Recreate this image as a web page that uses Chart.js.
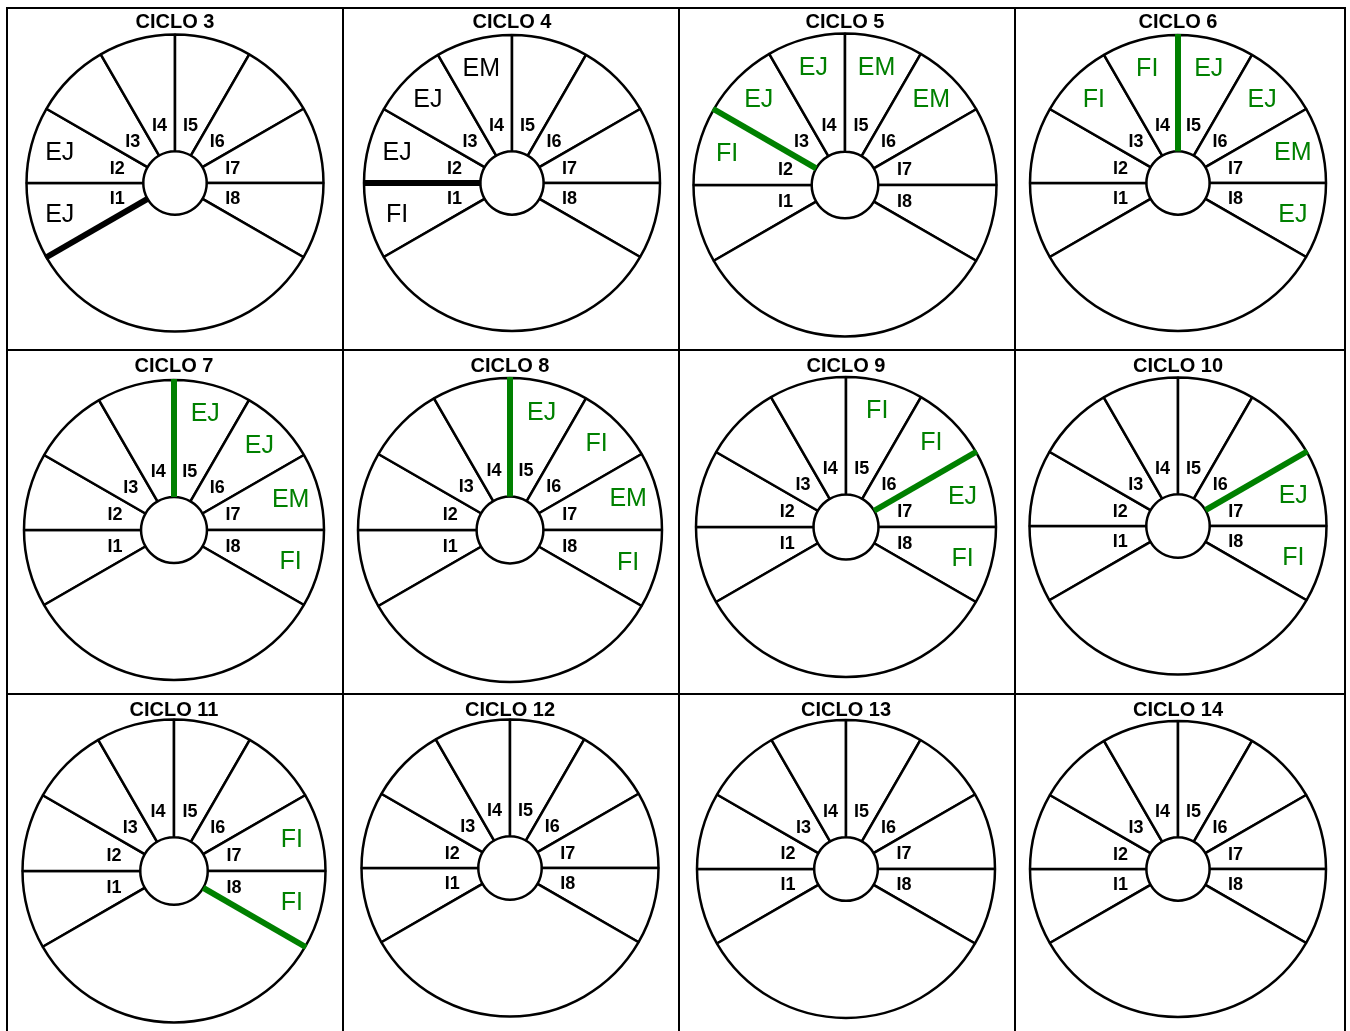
<!DOCTYPE html>
<html>
<head>
<meta charset="utf-8">
<script src="https://cdn.jsdelivr.net/npm/chart.js@4"></script>
<style>
  html, body { margin: 0; padding: 0; background: #fff; }
  body { width: 1350px; height: 1031px; position: relative; overflow: hidden; font-family: "Liberation Sans", Arial, sans-serif; }
  .ln { position: absolute; background: #000; }
  .tit { position: absolute; width: 200px; text-align: center; font-weight: bold; font-size: 20px; line-height: 20px; color: #000; z-index: 2; }
  canvas { position: absolute; }
</style>
</head>
<body>
<script>
// datos
const ciclos = ["CICLO 3", "CICLO 4", "CICLO 5", "CICLO 6", "CICLO 7", "CICLO 8",
                "CICLO 9", "CICLO 10", "CICLO 11", "CICLO 12", "CICLO 13", "CICLO 14"];
const segmentos = ["I1", "I2", "I3", "I4", "I5", "I6", "I7", "I8", ""];
const angulos = [30, 30, 30, 30, 30, 30, 30, 30, 120];

// texto de cada segmento I1..I8 por ciclo
const etiquetas = [
  ["EJ", "EJ", "", "", "", "", "", ""],
  ["FI", "EJ", "EJ", "EM", "", "", "", ""],
  ["", "FI", "EJ", "EJ", "EM", "EM", "", ""],
  ["", "", "FI", "FI", "EJ", "EJ", "EM", "EJ"],
  ["", "", "", "", "EJ", "EJ", "EM", "FI"],
  ["", "", "", "", "EJ", "FI", "EM", "FI"],
  ["", "", "", "", "FI", "FI", "EJ", "FI"],
  ["", "", "", "", "", "", "EJ", "FI"],
  ["", "", "", "", "", "", "FI", "FI"],
  ["", "", "", "", "", "", "", ""],
  ["", "", "", "", "", "", "", ""],
  ["", "", "", "", "", "", "", ""]
];
// segmento en cuyo inicio va la marca gruesa
const marca = [0, 1, 2, 4, 4, 4, 6, 6, 8, null, null, null];

// disposicion: centro x, centro y, radio, radio interior
const centros = [
  [175, 183, 148.5, 35], [512, 183, 148, 35], [845, 185, 151.5, 36], [1178, 183, 148, 35],
  [174, 530, 150, 36], [510, 530, 152, 36], [846, 527, 150, 35.5], [1178, 526, 148.5, 35],
  [174, 871, 151.5, 36.5], [510, 868, 148.5, 35], [846, 869, 149, 35], [1178, 869, 148, 35]
];
const tituloY = [11, 355, 699];
const VERDE = "#008000";

function linea(x, y, w, h) {
  const d = document.createElement("div");
  d.className = "ln";
  Object.assign(d.style, { left: x + "px", top: y + "px", width: w + "px", height: h + "px" });
  document.body.appendChild(d);
}
[6, 342, 678, 1014, 1344].forEach(x => linea(x, 7, 2, 1040));
[7, 349, 693].forEach(y => linea(6, y, 1340, 2));

const rotulos = {
  id: "rotulos",
  afterDatasetsDraw(chart, args, opts) {
    const ctx = chart.ctx;
    const arcs = chart.getDatasetMeta(0).data;
    ctx.save();
    if (opts.marca !== null) {
      const p = arcs[opts.marca].getProps(["x", "y", "startAngle", "innerRadius", "outerRadius"]);
      ctx.strokeStyle = opts.color;
      ctx.lineWidth = 6;
      ctx.beginPath();
      ctx.moveTo(p.x + Math.cos(p.startAngle) * p.innerRadius, p.y + Math.sin(p.startAngle) * p.innerRadius);
      ctx.lineTo(p.x + Math.cos(p.startAngle) * (p.outerRadius + 1), p.y + Math.sin(p.startAngle) * (p.outerRadius + 1));
      ctx.stroke();
    }
    ctx.textAlign = "center";
    ctx.textBaseline = "middle";
    arcs.forEach((arc, i) => {
      if (i > 7) return;
      const p = arc.getProps(["x", "y", "startAngle", "endAngle", "innerRadius", "outerRadius"]);
      const a = (p.startAngle + p.endAngle) / 2;
      const w = p.outerRadius - p.innerRadius;
      let r = p.innerRadius + w * 0.24;
      ctx.fillStyle = "#000";
      ctx.font = "bold 18px 'Liberation Sans', Arial, sans-serif";
      ctx.fillText(chart.data.labels[i], p.x + Math.cos(a) * r, p.y + Math.sin(a) * r + 1);
      const t = opts.textos[i];
      if (t) {
        r = p.innerRadius + w * 0.75;
        ctx.fillStyle = opts.color;
        ctx.font = "25px 'Liberation Sans', Arial, sans-serif";
        ctx.fillText(t, p.x + Math.cos(a) * r, p.y + Math.sin(a) * r + 1);
      }
    });
    ctx.restore();
  }
};

const S = 330;
ciclos.forEach((nombre, k) => {
  const [cx, cy, R, ri] = centros[k];
  const tit = document.createElement("div");
  tit.className = "tit";
  tit.textContent = nombre;
  tit.style.left = (cx - 100) + "px";
  tit.style.top = tituloY[Math.floor(k / 4)] + "px";
  document.body.appendChild(tit);

  const cv = document.createElement("canvas");
  cv.width = S; cv.height = S;
  cv.style.left = (cx - S / 2) + "px";
  cv.style.top = (cy - S / 2) + "px";
  cv.style.width = S + "px"; cv.style.height = S + "px";
  document.body.appendChild(cv);

  new Chart(cv.getContext("2d"), {
    type: "doughnut",
    data: {
      labels: segmentos,
      datasets: [{
        data: angulos,
        backgroundColor: "#fff",
        borderColor: "#000",
        borderWidth: 2.5
      }]
    },
    options: {
      responsive: false,
      animation: false,
      events: [],
      rotation: 240,
      radius: R,
      cutout: ri,
      plugins: {
        legend: { display: false },
        tooltip: { enabled: false },
        rotulos: { textos: etiquetas[k], marca: marca[k], color: k < 2 ? "#000" : VERDE }
      }
    },
    plugins: [rotulos]
  });
});
</script>
</body>
</html>
